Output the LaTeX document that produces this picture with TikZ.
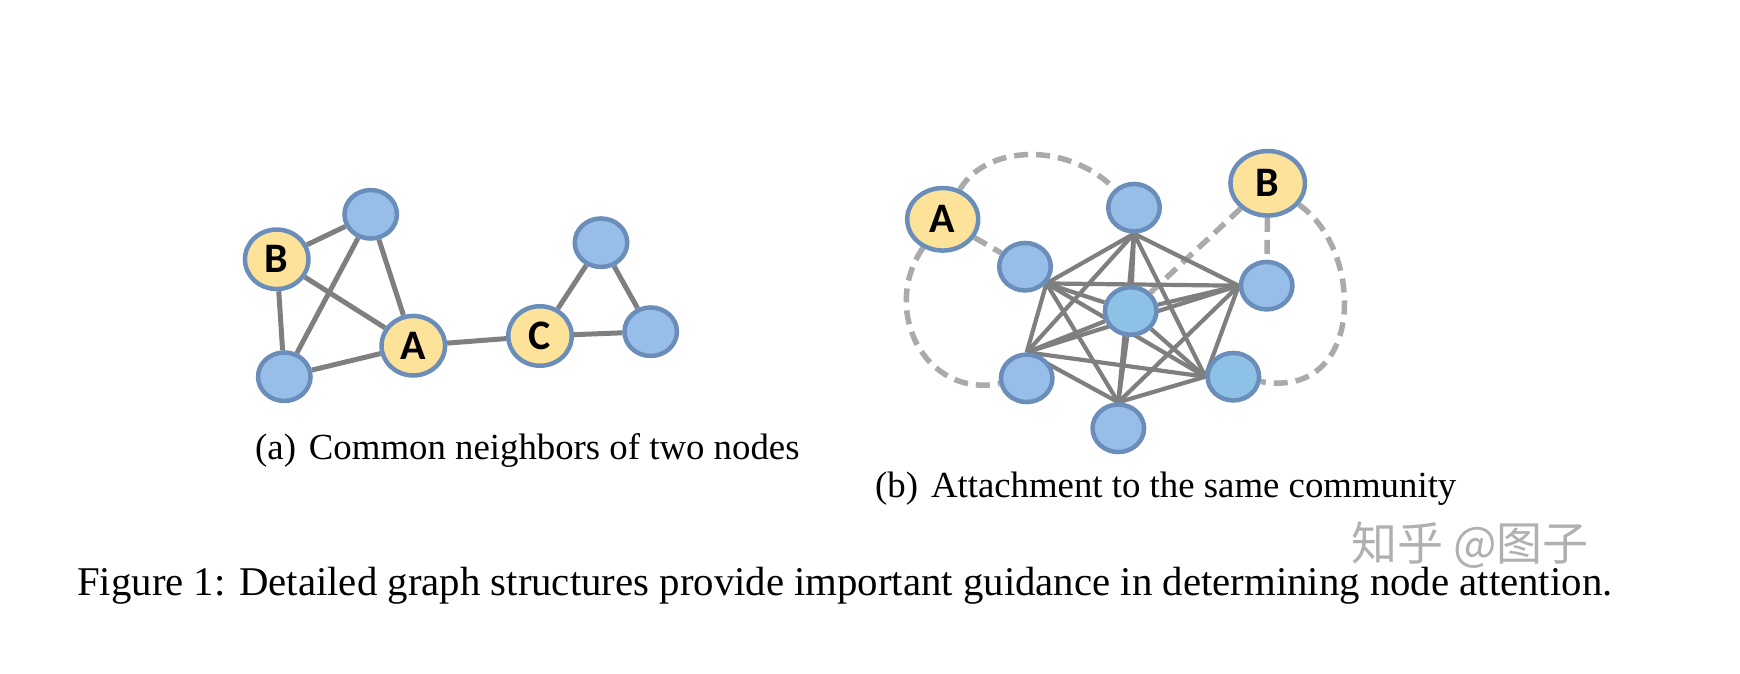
\documentclass[tikz,border=0pt]{standalone}
\usepackage{fontspec}
\setmainfont{Liberation Serif}
\newfontfamily\labfont{Carlito}
\newfontfamily\cjkfont{Noto Sans CJK SC}
\usetikzlibrary{shapes.geometric,backgrounds}
\definecolor{nblue}{HTML}{96BEE8}
\definecolor{ncyan}{HTML}{8DC2E6}
\definecolor{nyellow}{HTML}{FDE29A}
\definecolor{nborder}{HTML}{6A8DBA}
\definecolor{edgegray}{HTML}{7F7F7F}
\definecolor{dashgray}{HTML}{AAAAAA}
\definecolor{wmgray}{HTML}{B0B0B0}
\tikzset{
  basenode/.style={ellipse, draw=nborder, line width=4.5pt, inner sep=0pt,
    font=\labfont\bfseries\fontsize{42}{42}\selectfont},
  ysmall/.style={basenode, fill=nyellow, minimum width=63.5pt, minimum height=59.5pt},
  ylarge/.style={basenode, fill=nyellow, minimum width=71pt, minimum height=62.5pt},
  bsmall/.style={basenode, fill=nblue, minimum width=52.5pt, minimum height=48.5pt},
  bright/.style={basenode, fill=nblue, minimum width=51.5pt, minimum height=47.5pt},
  edgeA/.style={draw=edgegray, line width=5pt},
  edgeB/.style={draw=edgegray, line width=4.2pt},
  dashedge/.style={draw=dashgray, line width=5.5pt, dash pattern=on 14pt off 8pt},
  subcap/.style={anchor=base west, inner sep=0pt, font=\fontsize{36.8}{40}\selectfont},
  maincap/.style={anchor=base west, inner sep=0pt, font=\fontsize{40.8}{45}\selectfont}
}
\begin{document}
\begin{tikzpicture}[x=1pt,y=-1pt]
\useasboundingbox (0,0) rectangle (1740,674);

% ---------- graph (a) ----------
\node[ysmall] (aB) at (276.7,259.3) {B};
\node[bsmall] (aT) at (370.7,214.3) {};
\node[ysmall] (aA) at (413.3,345.7) {A};
\node[bsmall] (aL) at (284.3,376.7) {};
\node[ysmall] (aC) at (540,336) {C};
\node[bsmall] (aTR) at (601,242.7) {};
\node[bsmall] (aR) at (650.7,331.7) {};

\begin{pgfonlayer}{background}
\draw[edgeA] (aB) -- (aT);
\draw[edgeA] (aB) -- (aA);
\draw[edgeA] (aB) -- (aL);
\draw[edgeA] (aT) -- (aA);
\draw[edgeA] (aT) -- (aL);
\draw[edgeA] (aL) -- (aA);
\draw[edgeA] (aA) -- (aC);
\draw[edgeA] (aC) -- (aTR);
\draw[edgeA] (aC) -- (aR);
\draw[edgeA] (aTR) -- (aR);
\end{pgfonlayer}

% ---------- graph (b) ----------
\node[ylarge] (bA) at (942.7,219.3) {A};
\node[ylarge, minimum width=74.5pt, minimum height=64.5pt] (bB) at (1267.7,183.3) {B};
\node[bright] (bT) at (1134,207.7) {};
\node[bright] (bL) at (1025,266.7) {};
\node[bright, fill=ncyan] (bC) at (1130.7,311) {};
\node[bright] (bR) at (1266.7,285.7) {};
\node[bright] (bBL) at (1026.7,378.3) {};
\node[bright, fill=ncyan] (bBR) at (1233.3,376.7) {};
\node[bright] (bBo) at (1118.3,428.3) {};

\begin{pgfonlayer}{background}
% dashed links
\draw[dashedge] (bA) -- (bL);
\draw[dashedge] (bA) .. controls (985,146) and (1065,140) .. (bT);
\draw[dashedge] (bA) .. controls (880,310) and (925,398) .. (bBL);
\draw[dashedge] (bB) -- (bC);
\draw[dashedge] (bB) -- (bR);
\draw[dashedge] (bB) .. controls (1365,250) and (1365,400) .. (bBR);
% clique
\draw[edgeB] (bL.-38) -- (bT.south);
\draw[edgeB] (bL.-38) -- (bR.west);
\draw[edgeB] (bL.-38) -- (bC);
\draw[edgeB] (bL.-38) -- (bBL.north);
\draw[edgeB] (bL.-38) -- (bBR.west);
\draw[edgeB] (bL.-38) -- (bBo.north);
\draw[edgeB] (bT.south) -- (bR.west);
\draw[edgeB] (bT.south) -- (bC);
\draw[edgeB] (bT.south) -- (bBL.north);
\draw[edgeB] (bT.south) -- (bBR.west);
\draw[edgeB] (bT.south) -- (bBo.north);
\draw[edgeB] (bR.west) -- (bC);
\draw[edgeB] (bR.west) -- (bBL.north);
\draw[edgeB] (bR.west) -- (bBR.west);
\draw[edgeB] (bR.west) -- (bBo.north);
\draw[edgeB] (bC) -- (bBL.north);
\draw[edgeB] (bC) -- (bBR.west);
\draw[edgeB] (bC) -- (bBo.north);
\draw[edgeB] (bBL.north) -- (bBR.west);
\draw[edgeB] (bBL.north) -- (bBo.north);
\draw[edgeB] (bBR.west) -- (bBo.north);
\end{pgfonlayer}

% ---------- captions ----------
\node[subcap] (capa) at (255,459) {(a)\hspace{0.35em}Common neighbors of two nodes};
\node[subcap] (capb) at (875,497) {(b)\hspace{0.35em}Attachment to the same community};
\node[maincap] (capm) at (77,595) {Figure 1: Detailed graph structures provide important guidance in determining node attention.};
\node[text=wmgray, inner sep=0pt, font=\cjkfont\fontsize{46}{46}\selectfont] (wm) at (1470,545) {知乎 @图子};
\end{tikzpicture}
\end{document}
